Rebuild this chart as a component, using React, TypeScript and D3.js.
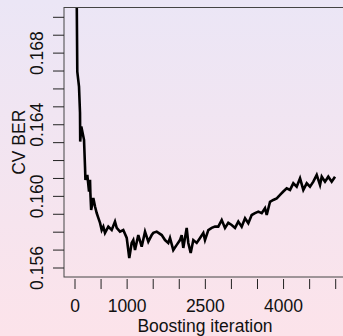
import React from 'react';
import * as d3 from 'd3';

// boosting iteration (x) and cross-validated BER (y)
const iterations = [
  25, 44, 77, 96, 100, 121, 173, 192, 200, 236, 269, 288, 295, 301, 310, 351, 384, 416, 447, 480,
  512, 543, 575, 639, 704, 767, 800, 863, 926, 992, 1041, 1087, 1118, 1151, 1214, 1279, 1343, 1406, 1471, 1502,
  1567, 1663, 1726, 1789, 1822, 1885, 1951, 2014, 2046, 2077, 2142, 2173, 2219, 2269, 2334, 2398, 2461, 2493, 2557, 2622,
  2685, 2748, 2814, 2877, 2940, 3005, 3069, 3132, 3197, 3261, 3324, 3389, 3452, 3516, 3581, 3644, 3677, 3740, 3803, 3869,
  3932, 3995, 4060, 4124, 4187, 4252, 4316, 4379, 4444, 4507, 4571, 4636, 4699, 4732, 4795, 4858, 4923, 4987,
];
const cvBer = [
  0.1740, 0.16697, 0.16613, 0.16467, 0.16306, 0.1639, 0.16316, 0.16166, 0.16092, 0.1612, 0.16027, 0.16092, 0.16019, 0.1598, 0.15924, 0.15991, 0.15943, 0.15907, 0.1588, 0.15852,
  0.15812, 0.15831, 0.15796, 0.15831, 0.15812, 0.15859, 0.15824, 0.15803, 0.15812, 0.15768, 0.15656, 0.1574, 0.15756, 0.157, 0.15784, 0.15719, 0.15803, 0.15747, 0.15784, 0.15796,
  0.15803, 0.15784, 0.15756, 0.1574, 0.15768, 0.157, 0.15729, 0.15756, 0.15784, 0.15712, 0.15824, 0.1574, 0.15684, 0.15756, 0.1574, 0.15768, 0.15796, 0.15756, 0.15812, 0.15824,
  0.15831, 0.15831, 0.15868, 0.15824, 0.15852, 0.1584, 0.15824, 0.15859, 0.15831, 0.15878, 0.1585, 0.15896, 0.15906, 0.15915, 0.15906, 0.15934, 0.15896, 0.1597, 0.1598, 0.15989,
  0.16008, 0.16027, 0.16045, 0.16036, 0.16073, 0.16054, 0.16101, 0.16036, 0.16073, 0.16054, 0.16082, 0.1612, 0.16064, 0.1611, 0.16082, 0.1611, 0.16082, 0.1611,
];

const xTicks = [0, 500, 1000, 1500, 2000, 2500, 3000, 3500, 4000, 4500, 5000];
const xTickLabels = [0, 1000, 2500, 4000];
const yTicks = [0.156, 0.157, 0.158, 0.159, 0.16, 0.161, 0.162, 0.163, 0.164, 0.165, 0.166, 0.167, 0.168, 0.169, 0.17];
const yTickLabels = [0.156, 0.16, 0.164, 0.168];

const App: React.FC = () => {
  const width = 343;
  const height = 336;
  // plot box (right side runs off the canvas)
  const plotLeft = 64;
  const plotRight = 346;
  const plotTop = 7.5;
  const plotBottom = 277;

  const x = d3.scaleLinear().domain([0, 5000]).range([75, 335.7]);
  const y = d3.scaleLinear().domain([0.156, 0.17]).range([268, 17.3]);

  const pts = iterations.map((it, i) => [it, cvBer[i]] as [number, number]);
  const line = d3.line<[number, number]>()
    .x((d) => x(d[0]))
    .y((d) => y(d[1]));

  const font = '"Liberation Sans", Arial, Helvetica, sans-serif';

  return (
    <div style={{ position: 'fixed', left: 0, top: 0 }}>
      <svg width={width} height={height} style={{ display: 'block' }}>
        <defs>
          <linearGradient id="bg" x1="0" y1="0" x2="0" y2="1">
            <stop offset="0%" stopColor="#ebe6f6" />
            <stop offset="100%" stopColor="#fce3ea" />
          </linearGradient>
          <clipPath id="plotClip">
            <rect x={plotLeft} y={plotTop} width={plotRight - plotLeft} height={plotBottom - plotTop} />
          </clipPath>
        </defs>
        <rect x={0} y={0} width={width} height={height} fill="url(#bg)" />

        <path
          d={line(pts) ?? ''}
          fill="none"
          stroke="#000"
          strokeWidth={2.6}
          strokeLinejoin="miter"
          clipPath="url(#plotClip)"
        />

        <rect
          x={plotLeft}
          y={plotTop}
          width={plotRight - plotLeft}
          height={plotBottom - plotTop}
          fill="none"
          stroke="#444"
          strokeWidth={1}
        />

        {/* x axis ticks */}
        {xTicks.map((t) => (
          <line key={t} x1={x(t)} x2={x(t)} y1={279} y2={289} stroke="#222" strokeWidth={1} />
        ))}
        {xTickLabels.map((t) => (
          <text key={t} x={x(t)} y={311.5} textAnchor="middle" fontFamily={font} fontSize={17.5} fill="#111">
            {t}
          </text>
        ))}
        <text x={(plotLeft + plotRight) / 2} y={331.5} textAnchor="middle" fontFamily={font} fontSize={17.5} fill="#111">
          Boosting iteration
        </text>

        {/* y axis ticks */}
        {yTicks.map((t) => (
          <line key={t} x1={53} x2={64} y1={y(t)} y2={y(t)} stroke="#222" strokeWidth={1} />
        ))}
        {yTickLabels.map((t) => (
          <text
            key={t}
            transform={`translate(43,${y(t)}) rotate(-90)`}
            textAnchor="middle"
            fontFamily={font}
            fontSize={17.5}
            fill="#111"
          >
            {t.toFixed(3)}
          </text>
        ))}
        <text
          transform={`translate(25,${(plotTop + plotBottom) / 2}) rotate(-90)`}
          textAnchor="middle"
          fontFamily={font}
          fontSize={17.5}
          fill="#111"
        >
          CV BER
        </text>
      </svg>
    </div>
  );
};

export default App;
